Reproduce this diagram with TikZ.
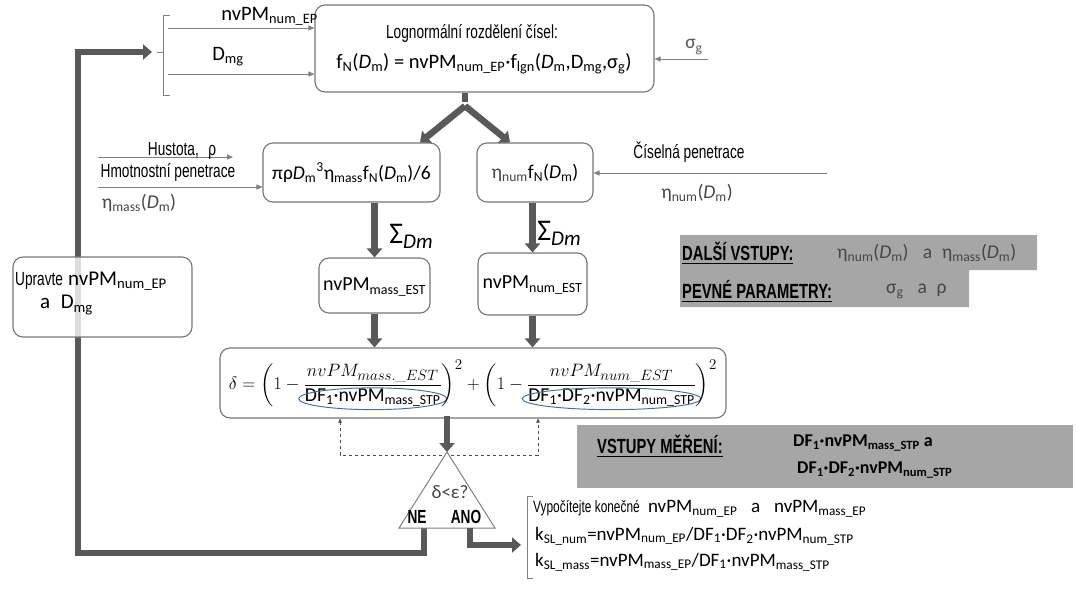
\documentclass[tikz,border=0pt]{standalone}
\usepackage{fontspec}
\usepackage{amsmath}
\usepackage{graphicx}
\usetikzlibrary{arrows.meta,calc}
\newfontfamily\nar{Liberation Sans}[FakeStretch=0.72]
\newfontfamily\carl{Carlito}
\definecolor{thk}{RGB}{89,89,89}
\definecolor{thn}{RGB}{128,128,128}
\definecolor{bx}{RGB}{118,118,118}
\definecolor{gbox}{RGB}{166,166,166}
\definecolor{ell}{RGB}{70,110,150}
\definecolor{dtx}{RGB}{70,70,70}
\newcommand\sbs[1]{\textsubscript{#1}}
\newcommand\fs[1]{\fontsize{#1}{#1}\selectfont}
\newcommand\ellip[1]{\tikz[baseline=(e.base)]{\node[inner sep=0pt,outer sep=0pt] (e) {#1};
  \draw[overlay,ell,line width=0.9pt] let \p1=($(e.east)-(e.west)$) in ([yshift=-1pt]e.center) ellipse [x radius={0.5*\x1+6pt}, y radius=10.5pt];}}
\newcommand\sumdm{{\carl\fs{30}Σ\raisebox{-5pt}{\fs{21}\textit{Dm}}}}
\begin{document}
\begin{tikzpicture}[x=1pt,y=-1pt,
  box/.style={draw=bx,line width=1.1pt,rounded corners=10pt,fill=white,inner sep=0pt},
  thickarrow/.style={draw=thk,line width=6.5pt,-{Triangle[length=9pt,width=15pt]}},
  thickline/.style={draw=thk,line width=6.5pt},
  thinarrow/.style={draw=thn,line width=0.8pt,-{Triangle[length=6pt,width=5pt]}},
  thinline/.style={draw=thn,line width=0.8pt},
  nartext/.style={font=\nar\fs{19},inner sep=0pt},
  cartext/.style={font=\carl\fs{19.5},inner sep=0pt},
  boldlab/.style={font=\nar\bfseries\fs{20.5},inner sep=0pt,anchor=west},
]
\useasboundingbox (0,0) rectangle (1076,599);

% ---------- thick feedback loop (drawn first, box over it)
\coordinate (ne) at (424,528);
\coordinate (brmid) at (157,52);
\draw[thickarrow,line join=miter] (ne) -- (424,553) -- (78,553) -- (78,52) -- ([xshift=-5pt]brmid);

% ---------- top box
\node[box,minimum width=339pt,minimum height=87pt] (top) at (484.5,48.5) {};
\node[nartext] (toptitle) at (472,33) {Lognormální rozdělení čísel:};
\node[cartext,font=\carl\fs{20.5}] (topform) at (484,64) {f\sbs{N}(\textit{D}\sbs{m}) = nvPM\sbs{num\_EP}·f\sbs{lgn}(\textit{D}\sbs{m},D\sbs{mg},σ\sbs{g})};

% bracket and inputs on the left of the top box
\draw[thinline] (170,15) -- (163,15) -- (163,95) -- (170,95);
\draw[thinline] (163,52) -- (brmid);
\coordinate (in1) at (168,28);
\coordinate (in2) at (168,74);
\draw[thinarrow] (in1) -- (in1 -| top.west);
\draw[thinarrow] (in2) -- (in2 -| top.west);
\node[cartext,font=\carl\fs{20.5},anchor=east] (lnv) at (318,16) {nvPM\sbs{num\_EP}};
\node[cartext,font=\carl\fs{20.5}] (ldmg) at (228,57) {D\sbs{mg}};

% sigma_g input
\coordinate (sg) at (708,59);
\draw[thinarrow] (sg) -- (sg -| top.east);
\node[cartext,text=thk] (sgl) at (694,47) {σ\sbs{g}};

% ---------- middle boxes
\node[box,minimum width=177pt,minimum height=59pt] (ml) at (351.5,172.5) {};
\node[cartext] (mlt) at (351.5,172.5) {πρ\textit{D}\sbs{m}\textsuperscript{3}η\sbs{mass}f\sbs{N}(\textit{D}\sbs{m})/6};
\node[box,minimum width=116pt,minimum height=59pt] (mr) at (535,172.5) {};
\node[cartext] (mrt) at (535,172.5) {{\color{dtx}η\sbs{num}}f\sbs{N}(\textit{D}\sbs{m})};

% fork
\coordinate (fk) at (465,106);
\draw[thickline] (top.south -| fk) -- ([yshift=4pt]fk);
\draw[thickarrow] (fk) -- (ml.north -| 420,0);
\draw[thickarrow] (fk) -- (mr.north -| 510,0);

% left inputs
\coordinate (hu) at (98,157);
\coordinate (hm) at (98,187);
\draw[thinarrow] (hu) -- (233,157);
\draw[thinarrow] (hm) -- (hm -| ml.west);
\node[nartext,anchor=base] (hut) at (182,155) {Hustota,\enspace ρ};
\node[nartext] (hmt) at (168,172) {Hmotnostní penetrace};
\node[cartext,text=dtx] (hme) at (139,203) {η\sbs{mass}(\textit{D}\sbs{m})};

% right input
\coordinate (cp) at (827,173);
\draw[thinarrow] (cp) -- (cp -| mr.east);
\node[nartext] (cpt) at (689,152) {Číselná penetrace};
\node[cartext,text=dtx] (cpe) at (697,193) {η\sbs{num}(\textit{D}\sbs{m})};

% ---------- lower boxes
\node[box,minimum width=111pt,minimum height=55pt] (mle) at (374.5,285.5) {};
\node[cartext,font=\carl\fs{20}] (mlet) at (374.5,287) {nvPM\sbs{mass\_EST}};
\node[box,minimum width=109pt,minimum height=62pt] (mre) at (532.5,284) {};
\node[cartext,font=\carl\fs{20}] (mret) at (532.5,285) {nvPM\sbs{num\_EST}};
\draw[thickarrow] (ml.south -| mle.north) -- (mle.north);
\draw[thickarrow] (mr.south -| mre.north) -- (mre.north);
\node[inner sep=0pt] (s1) at (411,236) {\sumdm};
\node[inner sep=0pt] (s2) at (559,233) {\sumdm};

% ---------- delta box
\node[box,minimum width=506pt,minimum height=70pt] (dl) at (473,383) {};
\draw[thickarrow] (mle.south) -- (mle.south |- dl.north);
\draw[thickarrow] (mre.south) -- (mre.south |- dl.north);
\node[inner sep=0pt,font=\fs{19}] (dform) at (473,383) {\resizebox{488pt}{!}{$\delta=\left(1-\dfrac{nvPM_{mass.\_EST}}{\text{\ellip{\carl DF\sbs{1}·nvPM\sbs{mass\_STP}}}}\right)^{2}+\left(1-\dfrac{nvPM_{num\_EST}}{\text{\ellip{\carl DF\sbs{1}·DF\sbs{2}·nvPM\sbs{num\_STP}}}}\right)^{2}$}};

% dashed feedback
\coordinate (dsl) at (340,455);
\coordinate (dsr) at (538,455);
\draw[thn!60!black,line width=0.6pt,dashed,{Triangle[length=4pt,width=3.5pt]}-{Triangle[length=4pt,width=3.5pt]}] (dsl |- dl.south) -- (dsl) -- (dsr) -- (dsr |- dl.south);

% ---------- decision triangle
\coordinate (triT) at (447,452);
\coordinate (triL) at (399,528);
\coordinate (triR) at (495,528);
\draw[thickarrow] ([yshift=3pt]dl.south -| triT) -- (triT);
\draw[thn,line width=1pt,fill=white] (triT) -- (triR) -- (triL) -- cycle;
\node[font=\carl\fs{19},text=dtx,inner sep=0pt] (dq) at (450,492) {δ<ε?};
\node[font=\nar\bfseries\fs{19},inner sep=0pt] (neT) at (417,517) {NE};
\node[font=\nar\bfseries\fs{19},inner sep=0pt] (anoT) at (466,517) {ANO};

% ANO branch
\coordinate (ano) at (470,528);
\coordinate (fin) at (521,545);
\draw[thickarrow,line join=miter] (ano) -- (ano |- fin) -- (fin);
\draw[thinline] (533,496) -- (527,496) -- (527,578) -- (533,578);
\node[nartext,anchor=west,font=\nar\fs{16.5}] (v1) at (533,509) {Vypočítejte konečné\enspace{\carl\fs{19}nvPM\sbs{num\_EP}\enspace\ a\enspace\ nvPM\sbs{mass\_EP}}};
\node[cartext,anchor=west,font=\carl\fs{19}] (v2) at (535,536) {k\sbs{SL\_num}=nvPM\sbs{num\_EP}/DF\sbs{1}·DF\sbs{2}·nvPM\sbs{num\_STP}};
\node[cartext,anchor=west,font=\carl\fs{19}] (v3) at (535,562) {k\sbs{SL\_mass}=nvPM\sbs{mass\_EP}/DF\sbs{1}·nvPM\sbs{mass\_STP}};

% ---------- Upravte box (semi-transparent over loop)
\node[draw=bx,line width=1.1pt,rounded corners=10pt,fill=white,fill opacity=0.8,draw opacity=1,inner sep=0pt,minimum width=179pt,minimum height=80pt] (up) at (102.5,297) {};
\node[inner sep=0pt,anchor=west] (up1) at (15,281) {{\nar\fs{19}Upravte}\enspace{\carl\fs{21}nvPM\sbs{num\_EP}}};
\node[inner sep=0pt,anchor=west] (up2) at (40,305) {\carl\fs{21}a\enspace D\sbs{mg}};

% ---------- grey panels
\fill[gbox] (680,235) -- (1037,235) -- (1037,270) -- (969,270) -- (969,307) -- (680,307) -- cycle;
\node[boldlab] (dv) at (682,253) {\underline{DALŠÍ VSTUPY:}};
\node[cartext,anchor=west,text=dtx] (dvv) at (837,253) {η\sbs{num}(\textit{D}\sbs{m})\enspace\ a\enspace η\sbs{mass}(\textit{D}\sbs{m})};
\node[boldlab] (pp) at (682,291) {\underline{PEVNÉ PARAMETRY:}};
\node[cartext,anchor=west,text=dtx] (ppv) at (886,291) {σ\sbs{g}\enspace\ a\enspace ρ};

\fill[gbox] (577,425) rectangle (1073,488);
\node[boldlab] (vm) at (597,446) {\underline{VSTUPY MĚŘENÍ:}};
\node[cartext,anchor=west,font=\carl\bfseries\fs{18}] (vm1) at (793,443) {DF\sbs{1}·nvPM\sbs{mass\_STP} a};
\node[cartext,anchor=west,font=\carl\bfseries\fs{18}] (vm2) at (797,470) {DF\sbs{1}·DF\sbs{2}·nvPM\sbs{num\_STP}};
\end{tikzpicture}
\end{document}
